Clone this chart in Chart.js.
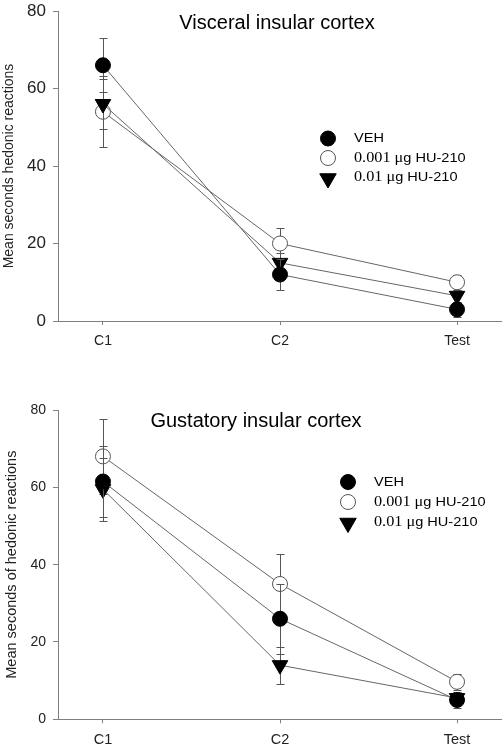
<!DOCTYPE html>
<html>
<head>
<meta charset="utf-8">
<script src="https://cdn.jsdelivr.net/npm/chart.js@4/dist/chart.umd.min.js"></script>
<style>
html, body { margin: 0; padding: 0; background: #ffffff; overflow: hidden; }
#wrap { position: relative; width: 502px; height: 746px; overflow: hidden; }
.panel { position: absolute; left: 0; width: 502px; }
canvas { display: block; }
</style>
</head>
<body>
<div id="wrap">
  <div class="panel" style="top:0;height:355px"><canvas id="c1"></canvas></div>
  <div class="panel" style="top:355px;height:391px"><canvas id="c2"></canvas></div>
</div>
<script>
// ---------------- DATA ----------------
const categories = ['C1', 'C2', 'Test'];
const seriesLabels = ['VEH', '0.001 μg HU-210', '0.01 μg HU-210'];
const yTickValues = [0, 20, 40, 60, 80];

const visceralTitle = 'Visceral insular cortex';
const visceralYLabel = 'Mean seconds hedonic reactions';
const visceralVEH = [66, 12, 3];
const visceralVEHErr = [7, 4, 2];
const visceralLow = [54, 20, 10];
const visceralLowErr = [9.2, 4, 2];
const visceralHigh = [56, 15, 6.5];
const visceralHighErr = [6.5, 2.5, 1.5];

const gustatoryTitle = 'Gustatory insular cortex';
const gustatoryYLabel = 'Mean seconds of hedonic reactions';
const gustatoryVEH = [61.5, 26, 5];
const gustatoryVEHErr = [9.2, 9, 2];
const gustatoryLow = [68, 35, 9.7];
const gustatoryLowErr = [9.6, 7.8, 2];
const gustatoryHigh = [59.5, 14, 5.5];
const gustatoryHighErr = [8.2, 4.8, 1.5];

// ---------------- STYLE ----------------
const SANS = '"Liberation Sans", Arial, sans-serif';
const SERIF = '"Liberation Serif", "Times New Roman", serif';
const AXIS = '#808080';
const LINE = '#666666';
const ERR = '#555555';

const markerStyles = [
  { pointStyle: 'circle', fill: '#000000', stroke: '#000000', radius: 7.5, rotation: 0, order: 0 },
  { pointStyle: 'circle', fill: '#ffffff', stroke: '#555555', radius: 7.5, rotation: 0, order: 2 },
  { pointStyle: 'triangle', fill: '#000000', stroke: '#000000', radius: 9, rotation: 180, order: 1 }
];

const errorBarPlugin = {
  id: 'errorBars',
  beforeDatasetDraw(chart, args) {
    const ds = chart.data.datasets[args.index];
    if (!ds.errors) return;
    const meta = chart.getDatasetMeta(args.index);
    const y = chart.scales.y;
    const ctx = chart.ctx;
    ctx.save();
    ctx.strokeStyle = ERR;
    ctx.lineWidth = 1;
    meta.data.forEach((pt, j) => {
      const v = ds.data[j].y, e = ds.errors[j];
      const x = Math.round(pt.x) + 0.5;
      const yt = Math.round(y.getPixelForValue(v + e)) + 0.5;
      const yb = Math.round(y.getPixelForValue(v - e)) + 0.5;
      ctx.beginPath();
      ctx.moveTo(x, yt); ctx.lineTo(x, yb);
      ctx.moveTo(x - 4, yt); ctx.lineTo(x + 4, yt);
      ctx.moveTo(x - 4, yb); ctx.lineTo(x + 4, yb);
      ctx.stroke();
    });
    ctx.restore();
  }
};

function drawLegendText(ctx, text, x, y, size, sx) {
  const m = text.match(/^([\d.]+ μ)(.*)$/);
  ctx.save();
  ctx.translate(x, y);
  ctx.scale(sx, 1);
  ctx.fillStyle = '#000000';
  ctx.textBaseline = 'alphabetic';
  ctx.textAlign = 'left';
  if (m) {
    ctx.font = (size + 1.5) + 'px ' + SERIF;
    ctx.fillText(m[1], 0, 0);
    const w = ctx.measureText(m[1]).width;
    ctx.font = size + 'px ' + SANS;
    ctx.fillText(m[2], w, 0);
  } else {
    ctx.font = size + 'px ' + SANS;
    ctx.fillText(text, 0, 0);
  }
  ctx.restore();
}

const overlayPlugin = {
  id: 'overlay',
  afterDraw(chart) {
    const o = chart.options.plugins.overlay;
    const ca = chart.chartArea;
    const ctx = chart.ctx;
    ctx.save();
    ctx.font = o.titleSize + 'px ' + SANS;
    ctx.fillStyle = '#000000';
    ctx.textAlign = 'center';
    ctx.textBaseline = 'alphabetic';
    ctx.fillText(o.title, ca.left + o.titleX, ca.top + o.titleY);
    ctx.restore();
    seriesLabels.forEach((lab, i) => {
      const st = markerStyles[i];
      const cy = ca.top + o.legendY + i * o.legendStep;
      ctx.save();
      ctx.fillStyle = st.fill;
      ctx.strokeStyle = st.stroke;
      ctx.lineWidth = 1;
      Chart.helpers.drawPoint(ctx, {
        pointStyle: st.pointStyle,
        radius: st.pointStyle === 'triangle' ? 9.5 : 7.5,
        rotation: st.rotation,
        borderWidth: 1
      }, ca.left + o.legendMarkerX, cy + (st.pointStyle === 'triangle' ? 1 : 0));
      ctx.restore();
      drawLegendText(ctx, lab, ca.left + o.legendTextX, cy + o.legendBaseline, 13, 1.12);
    });
  }
};

function makeChart(id, cfg) {
  const seriesValues = [cfg.veh, cfg.low, cfg.high];
  const seriesErrors = [cfg.vehErr, cfg.lowErr, cfg.highErr];
  const datasets = seriesLabels.map((lab, i) => ({
    label: lab,
    data: seriesValues[i].map((v, j) => ({ x: j, y: v })),
    errors: seriesErrors[i],
    order: markerStyles[i].order,
    borderColor: LINE,
    borderWidth: 1,
    fill: false,
    tension: 0,
    pointStyle: markerStyles[i].pointStyle,
    pointRadius: markerStyles[i].radius,
    pointRotation: markerStyles[i].rotation,
    pointBackgroundColor: markerStyles[i].fill,
    pointBorderColor: markerStyles[i].stroke,
    pointBorderWidth: 1,
    pointHoverRadius: markerStyles[i].radius
  }));
  return new Chart(document.getElementById(id), {
    type: 'line',
    data: { datasets },
    plugins: [errorBarPlugin, overlayPlugin],
    options: {
      responsive: true,
      maintainAspectRatio: false,
      devicePixelRatio: 1,
      animation: false,
      layout: { autoPadding: false, padding: { top: cfg.padTop, left: 0, right: 0, bottom: 0 } },
      plugins: {
        legend: { display: false },
        tooltip: { enabled: false },
        title: { display: false },
        overlay: cfg.overlay
      },
      scales: {
        x: {
          type: 'linear',
          bounds: 'data',
          min: -0.254,
          max: 2.254,
          afterBuildTicks: s => { s.ticks = categories.map((c, i) => ({ value: i })); },
          afterFit: s => { s.height = cfg.xHeight; s.paddingLeft = 0; s.paddingRight = 0; },
          ticks: {
            callback: v => categories[v],
            font: { family: SANS, size: cfg.xFont },
            color: '#222222',
            padding: cfg.xPad,
            maxRotation: 0,
            autoSkip: false
          },
          grid: { drawOnChartArea: false, drawTicks: true, tickLength: 4, color: AXIS },
          border: { color: AXIS, width: 1 }
        },
        y: {
          type: 'linear',
          bounds: 'data',
          min: 0,
          max: 80,
          afterBuildTicks: s => { s.ticks = yTickValues.map(v => ({ value: v })); },
          afterFit: s => { s.width = 58; s.paddingTop = 0; s.paddingBottom = 0; },
          ticks: {
            font: { family: SANS, size: cfg.yFont },
            color: '#222222',
            padding: cfg.yPad
          },
          grid: { drawOnChartArea: false, drawTicks: true, tickLength: 5, color: AXIS },
          border: { color: AXIS, width: 1 },
          title: {
            display: true,
            text: cfg.yLabel,
            font: { family: SANS, size: cfg.yLabelFont },
            color: '#222222',
            padding: { top: cfg.yLabelPad, bottom: 0 }
          }
        }
      }
    }
  });
}

makeChart('c1', {
  veh: visceralVEH, vehErr: visceralVEHErr,
  low: visceralLow, lowErr: visceralLowErr,
  high: visceralHigh, highErr: visceralHighErr,
  yLabel: visceralYLabel,
  padTop: 11, xHeight: 34, xFont: 14, xPad: 8, yFont: 17, yPad: 7,
  yLabelFont: 14, yLabelPad: 0.5,
  overlay: {
    title: visceralTitle, titleSize: 20, titleX: 219, titleY: 18,
    legendMarkerX: 270, legendTextX: 296, legendY: 127.5, legendStep: 19.5, legendBaseline: 3.5
  }
});

makeChart('c2', {
  veh: gustatoryVEH, vehErr: gustatoryVEHErr,
  low: gustatoryLow, lowErr: gustatoryLowErr,
  high: gustatoryHigh, highErr: gustatoryHighErr,
  yLabel: gustatoryYLabel,
  padTop: 55, xHeight: 26.7, xFont: 14.5, xPad: 8, yFont: 14, yPad: 7,
  yLabelFont: 14.5, yLabelPad: 3.5,
  overlay: {
    title: gustatoryTitle, titleSize: 20, titleX: 198, titleY: 17,
    legendMarkerX: 290, legendTextX: 316, legendY: 72, legendStep: 20, legendBaseline: 3.5
  }
});
</script>
</body>
</html>
